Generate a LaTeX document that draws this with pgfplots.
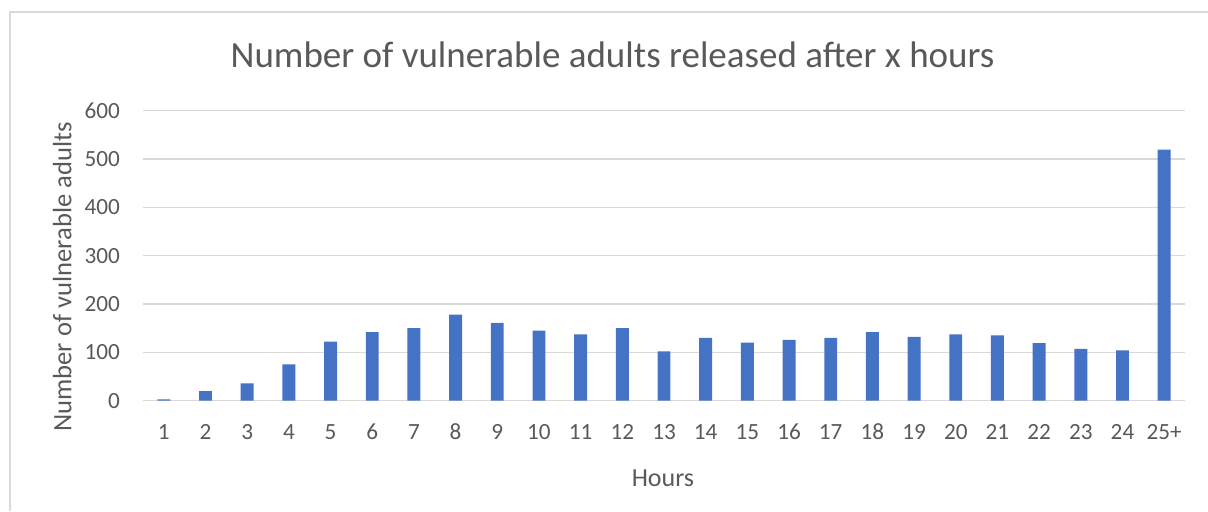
\documentclass[border=0pt]{standalone}
\usepackage{fontspec}
\setmainfont{Carlito}
\usepackage{pgfplots}
\pgfplotsset{compat=1.18}

\definecolor{barblue}{HTML}{4472C4}
\definecolor{txtgray}{HTML}{595959}
\definecolor{gridgray}{HTML}{D9D9D9}

\begin{document}
\begin{tikzpicture}
\useasboundingbox (0,0) rectangle (604pt,255.5pt);
\draw[gridgray, line width=0.75pt] (5pt,0) -- (5pt,249.5pt) -- (610pt,249.5pt);
\begin{axis}[
    at={(71.5pt,55.15pt)}, anchor=south west,
    scale only axis,
    width=521pt, height=145.1pt,
    xmin=-0.5, xmax=24.5,
    ymin=0, ymax=600,
    ytick={0,100,...,600},
    xtick={0,...,24},
    xticklabels={1,2,3,4,5,6,7,8,9,10,11,12,13,14,15,16,17,18,19,20,21,22,23,24,25+},
    ymajorgrids,
    grid style={gridgray, line width=0.75pt},
    axis line style={draw=none},
    major tick length=0pt,
    /pgf/number format/assume math mode=true,
    tick label style={font=\fontsize{11.6pt}{13pt}\selectfont, text=txtgray},
    yticklabel style={xshift=-8pt},
    xticklabel style={anchor=base, yshift=-19.6pt},
    title={Number of vulnerable adults released after x hours},
    title style={at={(0.4506,1.150)}, anchor=center, font=\fontsize{18.5pt}{21pt}\selectfont, text=txtgray},
    xlabel={Hours},
    xlabel style={at={(0.499,-0.266)}, anchor=center, font=\fontsize{13pt}{15pt}\selectfont, text=txtgray},
    ylabel={Number of vulnerable adults},
    ylabel style={at={(-0.0775,0.426)}, anchor=center, font=\fontsize{13.3pt}{15pt}\selectfont, text=txtgray},
    ybar, bar width=0.31,
]
\addplot[fill=barblue, draw=none] coordinates {
    (0,3) (1,20) (2,36) (3,75) (4,122) (5,142) (6,150) (7,178) (8,161) (9,145)
    (10,137) (11,150) (12,102) (13,130) (14,120) (15,126) (16,130) (17,142)
    (18,132) (19,137) (20,135) (21,119) (22,107) (23,104) (24,519)
};
\end{axis}
\end{tikzpicture}
\end{document}
